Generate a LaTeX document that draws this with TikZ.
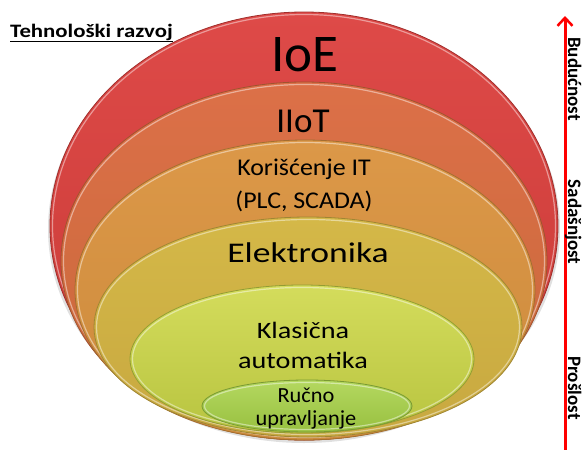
\documentclass[tikz,border=0pt]{standalone}
\usepackage{fontspec}
\setmainfont{Carlito}
\usetikzlibrary{shapes.geometric,arrows.meta}

\definecolor{ioeTop}{HTML}{DE4A48}
\definecolor{ioeBot}{HTML}{C83A36}
\definecolor{iiotTop}{HTML}{DC7048}
\definecolor{iiotBot}{HTML}{C8683A}
\definecolor{itTop}{HTML}{DC9848}
\definecolor{itBot}{HTML}{CC8A3C}
\definecolor{elTop}{HTML}{D4B848}
\definecolor{elBot}{HTML}{C8A840}
\definecolor{klTop}{HTML}{D4DC5C}
\definecolor{klBot}{HTML}{B8C440}
\definecolor{ruTop}{HTML}{B4D860}
\definecolor{ruBot}{HTML}{98C040}
\definecolor{arrowRed}{HTML}{FF0000}

\newcommand{\fsz}[1]{\fontsize{#1}{#1}\selectfont}
\newcommand{\wide}[2]{\scalebox{#1}[1]{#2}}

\tikzset{
  layer/.style args={#1/#2}{ellipse, inner sep=0pt, top color=#1, bottom color=#2,
    draw=#2!80!black, line width=0.8pt},
  rim/.style={ellipse, inner sep=0pt, draw=white, draw opacity=0.45, line width=1.2pt},
  shade below/.style={ellipse, inner sep=0pt, fill=black, fill opacity=0.12},
  caption/.style={anchor=base, inner sep=0pt, text=black},
  side/.style={anchor=base, font=\bfseries\fsz{19}, rotate=-90, inner sep=0pt},
}

\begin{document}
\begin{tikzpicture}[x=1pt, y=-1pt]
  \useasboundingbox (0,0) rectangle (582,450);

  % soft shadow under the stack
  \node[shade below, minimum width=512pt, minimum height=428pt] (shadow) at (304,229) {};

  % nested layers, outermost first
  \node[layer=ioeTop/ioeBot, minimum width=508pt, minimum height=428pt] (ioe) at (304,226) {};
  \node[rim, minimum width=503pt, minimum height=423pt] at (304,226) {};
  \node[layer=iiotTop/iiotBot, minimum width=486pt, minimum height=358pt] (iiot) at (304,261) {};
  \node[rim, minimum width=481pt, minimum height=353pt] at (304,261) {};
  \node[layer=itTop/itBot, minimum width=460pt, minimum height=300pt] (it) at (305,290) {};
  \node[rim, minimum width=455pt, minimum height=295pt] at (305,290) {};
  \node[layer=elTop/elBot, minimum width=428pt, minimum height=220pt] (el) at (308,327) {};
  \node[rim, minimum width=423pt, minimum height=215pt] at (308,327) {};
  \node[layer=klTop/klBot, minimum width=344pt, minimum height=148pt] (kl) at (302,359) {};
  \node[rim, minimum width=339pt, minimum height=143pt] at (302,359) {};
  \node[layer=ruTop/ruBot, minimum width=210pt, minimum height=52pt] (ru) at (307,406) {};
  \node[rim, minimum width=205pt, minimum height=47pt] at (307,406) {};

  % layer captions (placed by baseline)
  \node[caption, font=\fsz{53}] (tIoe) at (305,71) {IoE};
  \node[caption, font=\fsz{35}] (tIiot) at (303,132) {IIoT};
  \node[caption, font=\fsz{24}] (tIt1) at (304,175) {\wide{1.08}{Korišćenje IT}};
  \node[caption, font=\fsz{24}] (tIt2) at (304,208) {\wide{1.08}{(PLC, SCADA)}};
  \node[caption, font=\fsz{28.5}] (tEl) at (308,262) {\wide{1.25}{Elektronika}};
  \node[caption, font=\fsz{23.5}] (tKl1) at (303,338) {\wide{1.2}{Klasična}};
  \node[caption, font=\fsz{23.5}] (tKl2) at (303,368) {\wide{1.2}{automatika}};
  \node[caption, font=\fsz{21.5}] (tRu1) at (306,402) {\wide{1.04}{Ručno}};
  \node[caption, font=\fsz{21.5}] (tRu2) at (306,425) {\wide{1.04}{upravljanje}};

  % heading
  \node[anchor=base west, inner sep=0pt, font=\bfseries\fsz{19}] (head) at (10,37)
    {\underline{\wide{1.2}{Tehnološki razvoj}}};

  % time axis
  \coordinate (past) at (565,452);
  \coordinate (future) at (565,16);
  \draw[arrowRed, line width=3pt, -{Straight Barb[length=8pt, width=15pt, line width=2.5pt]}] (past) -- (future);
  \node[side] (fut) at (568,79) {Budućnost};
  \node[side] (pres) at (568,222) {Sadašnjost};
  \node[side] (pst) at (568,388) {Prošlost};
\end{tikzpicture}
\end{document}
